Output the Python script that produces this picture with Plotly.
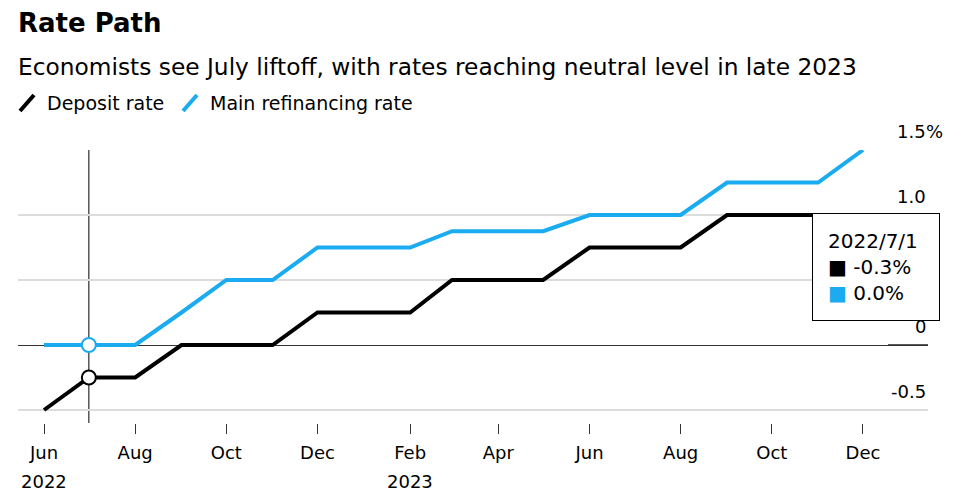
import plotly.graph_objects as go
from decimal import Decimal, ROUND_HALF_UP

# ---- data ----
months = ["2022-06-01", "2022-07-01", "2022-08-01", "2022-09-01", "2022-10-01", "2022-11-01",
          "2022-12-01", "2023-01-01", "2023-02-01", "2023-03-01", "2023-04-01", "2023-05-01",
          "2023-06-01", "2023-07-01", "2023-08-01", "2023-09-01", "2023-10-01", "2023-11-01",
          "2023-12-01"]
deposit_rate = [-0.5, -0.25, -0.25, 0.0, 0.0, 0.0, 0.25, 0.25, 0.25, 0.5, 0.5, 0.5,
                0.75, 0.75, 0.75, 1.0, 1.0, 1.0, 1.0]
refi_rate = [0.0, 0.0, 0.0, 0.25, 0.5, 0.5, 0.75, 0.75, 0.75, 0.875, 0.875, 0.875,
             1.0, 1.0, 1.0, 1.25, 1.25, 1.25, 1.5]
series_names = ["Deposit rate", "Main refinancing rate"]
x_tick_vals = ["2022-06-01", "2022-08-01", "2022-10-01", "2022-12-01", "2023-02-01",
               "2023-04-01", "2023-06-01", "2023-08-01", "2023-10-01", "2023-12-01"]
x_tick_text = ["Jun", "Aug", "Oct", "Dec", "Feb", "Apr", "Jun", "Aug", "Oct", "Dec"]
year_label_vals = ["2022-06-01", "2023-02-01"]
year_label_text = ["2022", "2023"]
y_tick_vals = [-0.5, 0, 0.5, 1.0, 1.5]
y_tick_text = ["-0.5", "0", "0.5", "1.0", "1.5"]
hover_index = 1
title = "Rate Path"
subtitle = "Economists see July liftoff, with rates reaching neutral level in late 2023"

BLACK = "#000000"
BLUE = "#1aabf0"
colors = [BLACK, BLUE]
FONT = "DejaVu Sans, Liberation Sans, sans-serif"

W, H = 958, 500
ML, MR, MT, MB = 18, 30, 150, 77
PW = W - ML - MR
PH = H - MT - MB


def px_x(px):
    return (px - ML) / PW


def px_y(py):
    return (H - MB - py) / PH


fig = go.Figure()
for name, vals, col in zip(series_names, [deposit_rate, refi_rate], colors):
    fig.add_trace(go.Scatter(x=months, y=vals, mode="lines", name=name,
                             line=dict(color=col, width=4), showlegend=False,
                             hoverinfo="skip"))

# hover spike line
fig.add_shape(type="line", xref="x", yref="paper", x0=months[hover_index], x1=months[hover_index],
              y0=0, y1=1, line=dict(color="#000000", width=1), layer="between")

# hover markers
for vals, col in zip([deposit_rate, refi_rate], colors):
    fig.add_trace(go.Scatter(x=[months[hover_index]], y=[vals[hover_index]], mode="markers",
                             marker=dict(size=14, color="white", line=dict(color=col, width=2)),
                             showlegend=False, hoverinfo="skip"))

# dark underline segments under the non-positive y labels
for v in y_tick_vals:
    if v <= 0:
        fig.add_shape(type="line", xref="paper", yref="y", x0=px_x(888), x1=1, y0=v, y1=v,
                      line=dict(color="#222", width=1.5), layer="between")

annotations = []
# title + subtitle
annotations.append(dict(text="<b>" + title + "</b>", xref="paper", yref="paper",
                        x=px_x(18), y=px_y(23), xanchor="left", yanchor="middle", xshift=-2,
                        showarrow=False, font=dict(size=26, color="#000", family=FONT)))
annotations.append(dict(text=subtitle, xref="paper", yref="paper",
                        x=px_x(18), y=px_y(66), xanchor="left", yanchor="middle", xshift=-2,
                        showarrow=False, font=dict(size=23.3, color="#000", family=FONT)))

# custom legend
legend_x = [20, 183]
for i, (name, col) in enumerate(zip(series_names, colors)):
    x0 = legend_x[i]
    fig.add_shape(type="line", xref="paper", yref="paper",
                  x0=px_x(x0), y0=px_y(111), x1=px_x(x0 + 14), y1=px_y(95),
                  line=dict(color=col, width=4))
    annotations.append(dict(text=name, xref="paper", yref="paper",
                            x=px_x(x0 + 25), y=px_y(103), xanchor="left", yanchor="middle",
                            showarrow=False, font=dict(size=19, color="#000", family=FONT)))

# year labels under the month ticks
for v, t in zip(year_label_vals, year_label_text):
    annotations.append(dict(text=t, xref="x", yref="paper", x=v, y=px_y(481),
                            xanchor="center", yanchor="middle", showarrow=False,
                            font=dict(size=18, color="#000", family=FONT)))

# y tick labels (right aligned, above grid lines)
for v, t in zip(y_tick_vals, y_tick_text):
    annotations.append(dict(text=t, xref="paper", yref="y", x=1, y=v, xanchor="right",
                            yanchor="bottom", yshift=6, showarrow=False,
                            font=dict(size=18, color="#000", family=FONT)))
annotations.append(dict(text="%", xref="paper", yref="y", x=1, y=y_tick_vals[-1], xanchor="left",
                        yanchor="bottom", yshift=6, xshift=-4, showarrow=False,
                        font=dict(size=18, color="#000", family=FONT)))


def fmt(v):
    return str(Decimal(str(v)).quantize(Decimal("0.1"), rounding=ROUND_HALF_UP)) + "%"


date_parts = months[hover_index].split("-")
date_label = f"{int(date_parts[0])}/{int(date_parts[1])}/{int(date_parts[2])}"
tip = (date_label + "<br>"
       + f"<span style='color:{BLACK}'>■</span> " + fmt(deposit_rate[hover_index]) + "<br>"
       + f"<span style='color:{BLUE}'>■</span> " + fmt(refi_rate[hover_index]))
annotations.append(dict(text=tip, xref="paper", yref="paper", x=px_x(812), y=px_y(213),
                        xanchor="left", yanchor="top", align="left", showarrow=False,
                        bgcolor="white", bordercolor="#000", borderwidth=1, borderpad=15,
                        width=96,
                        font=dict(size=20, color="#000", family=FONT)))

fig.update_layout(
    width=W, height=H,
    margin=dict(l=ML, r=MR, t=MT, b=MB, pad=0),
    paper_bgcolor="white", plot_bgcolor="white",
    font=dict(family=FONT, size=18, color="#000"),
    annotations=annotations,
    xaxis=dict(type="date", range=["2022-05-14 14:00", "2024-01-13 12:00"],
               tickvals=x_tick_vals, ticktext=x_tick_text, ticks="outside", ticklen=10,
               tickcolor="#333", tickwidth=1, showgrid=False, showline=False, zeroline=False,
               ticklabelstandoff=3,
               tickfont=dict(size=18, color="#000", family=FONT)),
    yaxis=dict(range=[-0.6, 1.5], tickvals=y_tick_vals, showticklabels=False,
               showgrid=True, gridcolor="#dcdcdc", gridwidth=2, zeroline=True,
               zerolinecolor="#333", zerolinewidth=1, showline=False, ticks=""),
    hovermode=False,
)

fig.write_html("out.html", config={"displayModeBar": False},
               post_script="document.body.style.margin='0';document.body.style.overflow='hidden';")
